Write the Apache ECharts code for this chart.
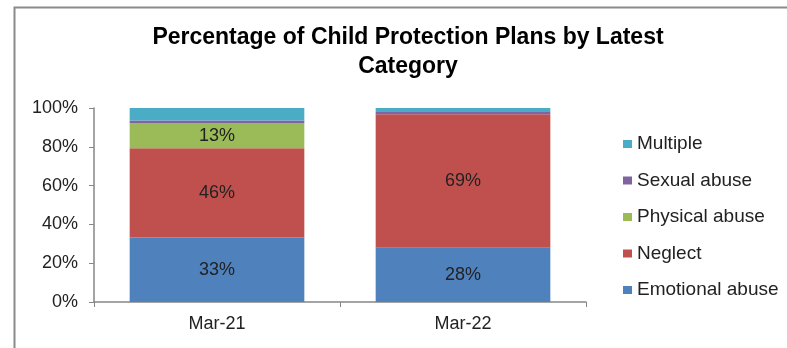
<!DOCTYPE html>
<html><head><meta charset="utf-8">
<script src="https://cdn.jsdelivr.net/npm/echarts@6/dist/echarts.min.js"></script>
<style>html,body{margin:0;padding:0;background:#fff}#c{width:787px;height:348px}</style>
</head><body><div id="c"></div>
<script>
const categories = ['Mar-21', 'Mar-22'];
const emotionalAbuse = [33.2, 28.0];
const neglect = [46.1, 68.8];
const physicalAbuse = [13.0, 0.0];
const sexualAbuse = [1.2, 1.2];
const multiple = [6.5, 2.0];
const yTicks = [0, 20, 40, 60, 80, 100];
const seriesNames = ['Emotional abuse', 'Neglect', 'Physical abuse', 'Sexual abuse', 'Multiple'];
const seriesData = [emotionalAbuse, neglect, physicalAbuse, sexualAbuse, multiple];
const colors = ['#4F81BD', '#C0504D', '#9BBB59', '#8064A2', '#4BACC6'];

const chart = echarts.init(document.getElementById('c'), null, {renderer: 'canvas'});
const font = 'Liberation Sans, Arial, sans-serif';
chart.setOption({
  animation: false,
  color: colors,
  graphic: [{
    type: 'rect', left: 12, top: 5, silent: true,
    shape: {width: 820, height: 400},
    style: {fill: 'none', stroke: '#8a8a8a', lineWidth: 2}
  }],
  title: {
    text: 'Percentage of Child Protection Plans by Latest\nCategory',
    left: 408, top: 23, textAlign: 'center', padding: 0,
    textStyle: {fontFamily: font, fontSize: 23, fontWeight: 'bold', color: '#000', lineHeight: 29}
  },
  legend: {
    orient: 'vertical', left: 623, top: 134.5, padding: 0,
    data: seriesNames.slice().reverse(),
    itemWidth: 9, itemHeight: 8, itemGap: 17.5,
    icon: 'rect',
    textStyle: {fontFamily: font, fontSize: 19, color: '#222', lineHeight: 19, padding: [0,0,0,0]}
  },
  grid: {left: 94, right: 201, top: 108, bottom: 46, containLabel: false},
  xAxis: {
    type: 'category', data: categories,
    axisLine: {lineStyle: {color: '#868686', width: 1.5}},
    axisTick: {show: true, length: 5, lineStyle: {color: '#868686'}},
    axisLabel: {fontFamily: font, fontSize: 18, color: '#222', margin: 13}
  },
  yAxis: {
    type: 'value', min: 0, max: 100, interval: 20,
    axisLine: {show: true, lineStyle: {color: '#868686', width: 1.5}},
    axisTick: {show: true, length: 5, lineStyle: {color: '#868686'}},
    splitLine: {show: false},
    axisLabel: {fontFamily: font, fontSize: 18, color: '#222', margin: 16, formatter: '{value}%'}
  },
  series: seriesNames.map((name, i) => ({
    name: name, type: 'bar', stack: 'total',
    data: seriesData[i],
    barCategoryGap: '29%',
    itemStyle: {color: colors[i]},
    label: {
      show: true, position: 'inside',
      fontFamily: font, fontSize: 18, color: '#222',
      formatter: p => p.value >= 5 && i < 3 ? Math.round(p.value) + '%' : ''
    }
  }))
});
</script></body></html>
